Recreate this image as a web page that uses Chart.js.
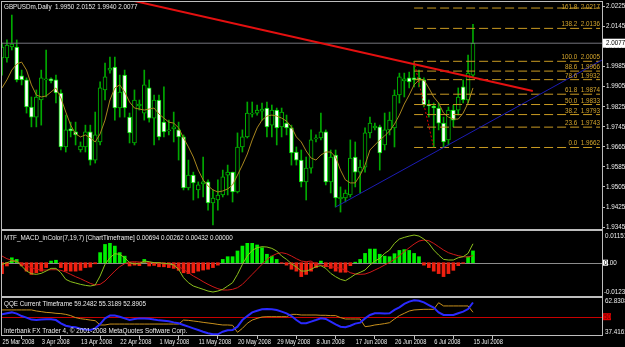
<!DOCTYPE html>
<html>
<head>
<meta charset="utf-8">
<script src="https://cdn.jsdelivr.net/npm/chart.js@4.4.1/dist/chart.umd.min.js"></script>
<style>
  html, body { margin: 0; padding: 0; background: #000; }
  #wrap { position: relative; width: 625px; height: 347px; }
</style>
</head>
<body>
<div id="wrap"><canvas id="mt4Chart" width="625" height="347"></canvas></div>
<script>
// -----------------------------
// DATA
// -----------------------------
const symbolName = 'GBPUSDm,Daily';
const dateLabels = ['25 Mar 2008', '3 Apr 2008', '13 Apr 2008', '22 Apr 2008', '1 May 2008', '11 May 2008',
  '20 May 2008', '29 May 2008', '8 Jun 2008', '17 Jun 2008', '26 Jun 2008', '6 Jul 2008', '15 Jul 2008'];
const barsPerLabel = 8;

const opens = [2.0018, 2.0018, 2.0062, 2.0062, 1.9947, 1.9931, 1.9823, 1.9783, 1.9851, 1.9931,
  1.9935, 1.9931, 1.9879, 1.9664, 1.9736, 1.9724, 1.9652, 1.9664, 1.9724, 1.9612,
  1.9684, 1.9891, 1.9970, 1.9982, 1.9819, 1.9950, 1.9783, 1.9680, 1.9827, 1.9799,
  1.9899, 1.9779, 1.9851, 1.9763, 1.9728, 1.9736, 1.9732, 1.9704, 1.9501, 1.9552,
  1.9493, 1.9517, 1.9525, 1.9441, 1.9453, 1.9473, 1.9552, 1.9564, 1.9485, 1.9664,
  1.9704, 1.9795, 1.9799, 1.9807, 1.9819, 1.9751, 1.9811, 1.9744, 1.9759, 1.9740,
  1.9644, 1.9612, 1.9525, 1.9580, 1.9696, 1.9700, 1.9724, 1.9525, 1.9632, 1.9457,
  1.9461, 1.9473, 1.9624, 1.9564, 1.9584, 1.9720, 1.9740, 1.9744, 1.9672, 1.9732,
  1.9740, 1.9871, 1.9927, 1.9939, 1.9939, 1.9939, 1.9931, 1.9831, 1.9827, 1.9819,
  1.9759, 1.9692, 1.9811, 1.9811, 1.9903, 1.9851, 1.9950];
const highs = [2.0078, 2.0090, 2.0189, 2.0090, 1.9970, 1.9939, 1.9863, 1.9891, 1.9970, 2.0050,
  1.9939, 1.9950, 1.9891, 1.9791, 1.9763, 1.9763, 1.9684, 1.9751, 1.9751, 1.9803,
  1.9923, 1.9998, 2.0022, 2.0022, 1.9950, 1.9970, 1.9799, 1.9891, 1.9851, 1.9970,
  1.9931, 1.9871, 1.9871, 1.9903, 1.9771, 1.9803, 1.9763, 1.9712, 1.9612, 1.9564,
  1.9525, 1.9624, 1.9533, 1.9493, 1.9533, 1.9572, 1.9592, 1.9564, 1.9720, 1.9732,
  1.9843, 1.9843, 1.9831, 1.9839, 1.9843, 1.9831, 1.9819, 1.9819, 1.9791, 1.9751,
  1.9664, 1.9652, 1.9624, 1.9732, 1.9712, 1.9799, 1.9732, 1.9652, 1.9652, 1.9505,
  1.9493, 1.9692, 1.9684, 1.9612, 1.9740, 1.9783, 1.9759, 1.9751, 1.9799, 1.9803,
  1.9891, 1.9958, 1.9958, 1.9962, 2.0005, 1.9970, 1.9939, 1.9851, 1.9839, 1.9839,
  1.9783, 1.9823, 1.9831, 1.9899, 1.9931, 2.0030, 2.0152];
const lows = [1.9950, 2.0002, 2.0050, 1.9923, 1.9911, 1.9799, 1.9744, 1.9744, 1.9751, 1.9863,
  1.9919, 1.9839, 1.9652, 1.9644, 1.9704, 1.9672, 1.9644, 1.9644, 1.9592, 1.9600,
  1.9672, 1.9851, 1.9958, 1.9771, 1.9783, 1.9783, 1.9680, 1.9672, 1.9811, 1.9771,
  1.9763, 1.9672, 1.9692, 1.9704, 1.9712, 1.9684, 1.9612, 1.9493, 1.9493, 1.9453,
  1.9461, 1.9465, 1.9413, 1.9354, 1.9413, 1.9465, 1.9473, 1.9445, 1.9481, 1.9644,
  1.9700, 1.9783, 1.9791, 1.9771, 1.9704, 1.9704, 1.9672, 1.9704, 1.9712, 1.9592,
  1.9592, 1.9505, 1.9453, 1.9560, 1.9684, 1.9692, 1.9513, 1.9481, 1.9425, 1.9405,
  1.9445, 1.9465, 1.9505, 1.9481, 1.9564, 1.9700, 1.9732, 1.9572, 1.9652, 1.9712,
  1.9664, 1.9839, 1.9863, 1.9899, 1.9903, 1.9903, 1.9823, 1.9783, 1.9662, 1.9732,
  1.9664, 1.9672, 1.9744, 1.9791, 1.9839, 1.9839, 1.9940];
const closes = [2.0062, 2.0070, 2.0074, 1.9931, 1.9931, 1.9823, 1.9783, 1.9863, 1.9939, 1.9935,
  1.9927, 1.9879, 1.9664, 1.9732, 1.9728, 1.9712, 1.9668, 1.9724, 1.9612, 1.9712,
  1.9899, 1.9943, 1.9978, 1.9819, 1.9883, 1.9819, 1.9720, 1.9851, 1.9835, 1.9911,
  1.9779, 1.9851, 1.9704, 1.9724, 1.9732, 1.9744, 1.9704, 1.9501, 1.9552, 1.9521,
  1.9513, 1.9525, 1.9441, 1.9461, 1.9473, 1.9545, 1.9564, 1.9485, 1.9664, 1.9704,
  1.9799, 1.9799, 1.9811, 1.9815, 1.9744, 1.9811, 1.9740, 1.9803, 1.9740, 1.9640,
  1.9612, 1.9525, 1.9580, 1.9692, 1.9700, 1.9724, 1.9525, 1.9624, 1.9461, 1.9465,
  1.9481, 1.9620, 1.9564, 1.9584, 1.9720, 1.9759, 1.9747, 1.9640, 1.9732, 1.9771,
  1.9871, 1.9943, 1.9935, 1.9923, 1.9931, 1.9931, 1.9831, 1.9827, 1.9819, 1.9759,
  1.9684, 1.9811, 1.9771, 1.9863, 1.9851, 1.9958, 2.0077];

// moving average drawn over the candles
const maLine = [1.9899, 1.9931, 1.9970, 1.9994, 2.0002, 1.9970, 1.9911, 1.9871, 1.9863, 1.9867,
  1.9883, 1.9899, 1.9859, 1.9803, 1.9751, 1.9716, 1.9704, 1.9712, 1.9700, 1.9684,
  1.9716, 1.9771, 1.9851, 1.9899, 1.9911, 1.9883, 1.9843, 1.9819, 1.9815, 1.9811,
  1.9815, 1.9819, 1.9795, 1.9779, 1.9763, 1.9759, 1.9740, 1.9700, 1.9664, 1.9624,
  1.9572, 1.9533, 1.9509, 1.9493, 1.9485, 1.9489, 1.9497, 1.9513, 1.9552, 1.9592,
  1.9636, 1.9692, 1.9740, 1.9771, 1.9787, 1.9791, 1.9787, 1.9779, 1.9767, 1.9744,
  1.9704, 1.9684, 1.9648, 1.9620, 1.9612, 1.9632, 1.9644, 1.9644, 1.9624, 1.9572,
  1.9533, 1.9521, 1.9521, 1.9552, 1.9592, 1.9652, 1.9672, 1.9692, 1.9708, 1.9728,
  1.9755, 1.9791, 1.9835, 1.9871, 1.9911, 1.9931, 1.9931, 1.9899, 1.9863, 1.9839,
  1.9799, 1.9783, 1.9775, 1.9775, 1.9799, 1.9839, 1.9899];

// objects on the price chart (bar index, price)
const redTrendBars = [0, 108.2];
const redTrendPrices = [2.0364, 1.9887];
const blueTrendBars = [68, 122.3];
const blueTrendPrices = [1.9425, 2.0010];
const fibAnchorBars = [84, 88];
const fibAnchorPrices = [2.0005, 1.9662];
const fibLevels = [161.8, 138.2, 100.0, 88.6, 78.6, 61.8, 50.0, 38.2, 23.6, 0.0];
const fibPrices = [2.0217, 2.0136, 2.0005, 1.9966, 1.9932, 1.9874, 1.9833, 1.9793, 1.9743, 1.9662];
const fibEndBar = 121.9;

const priceTicks = [2.0225, 2.0145, 2.0065, 1.9985, 1.9905, 1.9825, 1.9745, 1.9665, 1.9585, 1.9505, 1.9425, 1.9345];

// MACD window
const macdHist = [-0.0040, -0.0012, 0.0018, 0.0012, -0.0012, -0.0031, -0.0043, -0.0037, -0.0031, -0.0018,
  0.0006, 0.0009, -0.0018, -0.0031, -0.0031, -0.0031, -0.0028, -0.0018, -0.0016, -0.0004,
  0.0037, 0.0067, 0.0071, 0.0061, 0.0037, 0.0024, -0.0012, -0.0009, -0.0011, 0.0012,
  -0.0012, -0.0010, -0.0015, -0.0015, -0.0018, -0.0021, -0.0028, -0.0037, -0.0040, -0.0037,
  -0.0031, -0.0027, -0.0024, -0.0018, -0.0009, 0.0012, 0.0022, 0.0022, 0.0043, 0.0061,
  0.0071, 0.0071, 0.0065, 0.0055, 0.0031, 0.0024, 0.0012, -0.0002, -0.0009, -0.0024,
  -0.0031, -0.0051, -0.0043, -0.0031, -0.0018, 0.0006, -0.0015, -0.0021, -0.0031, -0.0035,
  -0.0035, -0.0011, 0.0002, 0.0012, 0.0034, 0.0050, 0.0050, 0.0031, 0.0024, 0.0022,
  0.0033, 0.0045, 0.0048, 0.0045, 0.0034, 0.0022, -0.0009, -0.0018, -0.0031, -0.0040,
  -0.0051, -0.0040, -0.0028, -0.0011, -0.0002, 0.0022, 0.00432];
const macdMain = [-0.00061, 0.00000, 0.00061, 0.00061, -0.00122, -0.00306, -0.00404, -0.00428, -0.00391, -0.00306,
  -0.00208, -0.00208, -0.00367, -0.00612, -0.00697, -0.00746, -0.00795, -0.00832, -0.00856, -0.00819,
  -0.00489, -0.00061, 0.00183, 0.00330, 0.00306, 0.00183, 0.00000, -0.00037, -0.00037, 0.00061,
  0.00037, 0.00000, 0.00000, -0.00024, -0.00037, -0.00086, -0.00245, -0.00550, -0.00734, -0.00856,
  -0.00917, -0.00978, -0.01040, -0.01076, -0.01040, -0.00978, -0.00856, -0.00734, -0.00428, -0.00061,
  0.00245, 0.00453, 0.00550, 0.00587, 0.00575, 0.00526, 0.00428, 0.00245, 0.00122, -0.00037,
  -0.00159, -0.00306, -0.00306, -0.00245, -0.00147, -0.00110, -0.00208, -0.00391, -0.00514, -0.00612,
  -0.00660, -0.00550, -0.00428, -0.00355, -0.00269, -0.00086, 0.00061, 0.00159, 0.00342, 0.00465,
  0.00709, 0.00868, 0.00929, 0.00978, 0.01015, 0.00978, 0.00868, 0.00709, 0.00465, 0.00281,
  0.00122, 0.00098, 0.00098, 0.00183, 0.00220, 0.00342, 0.00694];
const macdSignal = [0.00245, 0.00147, 0.00086, 0.00037, -0.00037, -0.00122, -0.00183, -0.00245, -0.00269, -0.00269,
  -0.00257, -0.00257, -0.00281, -0.00342, -0.00428, -0.00514, -0.00587, -0.00673, -0.00758, -0.00819,
  -0.00795, -0.00673, -0.00489, -0.00306, -0.00147, -0.00037, 0.00024, 0.00037, 0.00024, 0.00024,
  0.00012, 0.00000, -0.00012, -0.00037, -0.00061, -0.00086, -0.00147, -0.00245, -0.00367, -0.00489,
  -0.00587, -0.00697, -0.00795, -0.00881, -0.00954, -0.01003, -0.01003, -0.00978, -0.00917, -0.00795,
  -0.00612, -0.00428, -0.00245, -0.00061, 0.00122, 0.00245, 0.00330, 0.00367, 0.00330, 0.00245,
  0.00147, 0.00061, 0.00037, 0.00061, -0.00061, -0.00086, -0.00122, -0.00147, -0.00171, -0.00208,
  -0.00269, -0.00367, -0.00416, -0.00428, -0.00416, -0.00355, -0.00269, -0.00183, -0.00086, 0.00012,
  0.00122, 0.00257, 0.00404, 0.00550, 0.00685, 0.00795, 0.00832, 0.00807, 0.00709, 0.00587,
  0.00465, 0.00367, 0.00306, 0.00257, 0.00220, 0.00208, 0.00262];
const macdScaleLabels = ['0.01151', '-0.01237'];

// QQE window
const qqeFast = [51.5, 52.2, 52.8, 52.0, 50.4, 49.4, 48.1, 47.8, 48.1, 48.3,
  48.3, 47.8, 45.7, 44.1, 43.5, 43.1, 42.2, 41.7, 41.3, 42.4,
  45.2, 48.9, 50.7, 50.7, 50.0, 48.9, 47.8, 48.5, 48.9, 48.9,
  48.7, 48.1, 47.6, 47.4, 47.0, 46.3, 45.7, 44.6, 43.5, 42.4,
  41.3, 40.2, 39.2, 38.5, 38.5, 40.2, 41.1, 41.3, 43.5, 47.8,
  50.4, 52.8, 53.9, 54.8, 55.0, 54.8, 54.4, 53.3, 52.2, 50.4,
  47.8, 45.7, 45.7, 46.8, 47.8, 48.9, 48.5, 46.8, 45.0, 43.5,
  43.1, 44.1, 45.5, 46.1, 48.9, 51.1, 52.2, 52.2, 52.0, 52.2,
  54.4, 56.1, 58.3, 59.8, 60.7, 60.4, 59.3, 57.6, 55.9, 52.8,
  51.1, 51.1, 51.1, 52.2, 53.3, 55.0, 59.2482];
const qqeSlow = [54.4, 54.4, 54.4, 54.4, 54.4, 54.4, 54.4, 53.7, 53.3, 52.8,
  52.6, 52.2, 52.0, 51.5, 50.7, 49.4, 48.7, 48.3, 47.8, 47.4,
  44.6, 44.6, 45.2, 45.2, 45.2, 45.2, 45.2, 45.2, 45.2, 45.2,
  45.2, 45.2, 45.2, 45.2, 45.2, 45.2, 45.2, 47.8, 47.6, 47.2,
  46.8, 46.3, 45.9, 45.5, 45.0, 44.6, 44.6, 44.4, 39.8, 42.4,
  45.7, 47.8, 48.9, 49.8, 50.0, 50.0, 50.0, 50.0, 50.0, 51.5,
  51.5, 51.1, 51.1, 51.1, 51.1, 50.9, 50.9, 50.7, 50.7, 49.4,
  48.5, 48.5, 48.5, 48.5, 43.5, 43.9, 44.6, 45.0, 45.5, 46.1,
  48.5, 50.7, 52.2, 53.7, 54.4, 54.6, 54.8, 54.8, 54.8, 59.1,
  57.0, 57.0, 57.0, 57.0, 57.0, 57.0, 52.8905];
const qqeMiddleValue = 55.3189;
const qqeLevel = 50;
const qqeRange = [37.4161, 62.8308];

// -----------------------------
// LOOK
// -----------------------------
const FONT = '"Liberation Sans", Arial, sans-serif';
const TEXT = '#ececec';
const FRAME = '#bdbdbd';
const SQUEEZE = 0.84;      // MT4 text is narrower than Liberation Sans
const DATE_SQUEEZE = 0.76;

const last = closes.length - 1;
const xMax = 122.3;
const idx = closes.map((_, i) => i);

const line = (xs, ys, color, width, axis, order, dash) => ({
  type: 'line',
  data: xs.map((x, k) => ({ x, y: ys[k] })),
  yAxisID: axis,
  borderColor: color,
  borderWidth: width,
  borderDash: dash || [],
  pointRadius: 0,
  tension: 0,
  order
});

const fibSets = fibPrices.map(p =>
  line([fibAnchorBars[0], fibEndBar], [p, p], '#c99a22', 1, 'y', 3, [9, 4]));

// narrow text helper
function narrowText(ctx, str, x, y, align, sx) {
  ctx.save();
  ctx.translate(x, y);
  ctx.scale(sx || SQUEEZE, 1);
  ctx.textAlign = align || 'left';
  ctx.fillText(str, 0, 0);
  ctx.restore();
}

// -----------------------------
// PANES PLUGIN (frames, levels, texts)
// -----------------------------
const panesPlugin = {
  id: 'panes',
  beforeDatasetsDraw(chart) {
    const { ctx, scales: { x, y2, y3 } } = chart;
    ctx.save();
    ctx.lineWidth = 1;
    ctx.strokeStyle = '#8c8c8c';
    const z = Math.round(y2.getPixelForValue(0)) + 0.5;
    ctx.beginPath(); ctx.moveTo(x.left, z); ctx.lineTo(x.right, z); ctx.stroke();
    ctx.strokeStyle = '#c80000';
    const q = Math.round(y3.getPixelForValue(qqeLevel)) + 0.5;
    ctx.beginPath(); ctx.moveTo(x.left, q); ctx.lineTo(x.right, q); ctx.stroke();
    ctx.restore();
  },
  afterDraw(chart) {
    const { ctx, scales: { x, y, y2, y3 } } = chart;
    ctx.save();

    // pane frames
    ctx.strokeStyle = FRAME;
    ctx.lineWidth = 1;
    [y, y2, y3].forEach(s => {
      ctx.strokeRect(x.left - 0.5, s.top + 0.5, x.right - x.left + 1, s.bottom - s.top - 1);
    });

    ctx.font = '7.5px ' + FONT;

    // fibo texts
    ctx.fillStyle = '#d4a52c';
    ctx.textBaseline = 'alphabetic';
    const fx = x.getPixelForValue(fibEndBar);
    fibLevels.forEach((lvl, k) => {
      const ty = Math.max(y.getPixelForValue(fibPrices[k]) - 2, y.top + 8);
      narrowText(ctx, lvl.toFixed(1) + '  ' + fibPrices[k].toFixed(4), fx, ty, 'right');
    });

    // window titles
    ctx.textBaseline = 'middle';
    ctx.fillStyle = TEXT;
    narrowText(ctx, `${symbolName}  ${opens[last].toFixed(4)} ${highs[last].toFixed(4)} ${lows[last].toFixed(4)} ${closes[last].toFixed(4)}`, 4, y.top + 6);
    narrowText(ctx, `MTF_MACD_inColor(7,19,7) [ChartTimeframe] ${macdMain[last].toFixed(5)} ${macdSignal[last].toFixed(5)} ${macdHist[last].toFixed(5)} 0.00000`, 4, y2.top + 8);
    narrowText(ctx, `QQE Current Timeframe ${qqeFast[last].toFixed(4)} ${qqeMiddleValue.toFixed(4)} ${qqeSlow[last].toFixed(4)}`, 4, y3.top + 7);
    narrowText(ctx, 'Interbank FX Trader 4, \u00a9 2001-2008 MetaQuotes Software Corp.', 4, y3.bottom - 5, 'left', 0.85);

    // date labels
    x.ticks.forEach((t, k) => {
      narrowText(ctx, dateLabels[k], x.getPixelForValue(t.value) + 0.5, x.top + 6, 'left', DATE_SQUEEZE);
    });

    // price scale
    const rx = x.right + 4;
    priceTicks.forEach(v => narrowText(ctx, v.toFixed(4), rx, y.getPixelForValue(v)));

    // right scale of the sub windows
    narrowText(ctx, macdScaleLabels[0], rx - 1, y2.top + 6);
    narrowText(ctx, macdScaleLabels[1], rx - 2, y2.bottom - 5);
    const zy = y2.getPixelForValue(0);
    ctx.fillStyle = '#ffffff';
    ctx.fillRect(x.right + 1, zy - 3, 5, 6);
    ctx.fillStyle = '#000000';
    narrowText(ctx, '0', rx - 2, zy);
    ctx.fillStyle = TEXT;
    narrowText(ctx, '.00', rx + 2, zy);

    narrowText(ctx, qqeRange[1].toFixed(4), rx - 1, y3.top + 4);
    narrowText(ctx, qqeRange[0].toFixed(4), rx - 1, y3.bottom - 4);
    const ly = y3.getPixelForValue(qqeLevel);
    ctx.fillStyle = '#e00000';
    ctx.fillRect(x.right + 1, ly - 3.5, 8, 7);
    ctx.fillStyle = '#700000';
    narrowText(ctx, String(qqeLevel), rx - 2, ly);

    // current price tag
    const py = y.getPixelForValue(closes[last]);
    ctx.fillStyle = '#ffffff';
    ctx.fillRect(x.right + 1, py - 4.5, 625 - x.right, 9);
    ctx.fillStyle = '#000000';
    narrowText(ctx, closes[last].toFixed(4), rx, py);

    ctx.restore();
  }
};

// -----------------------------
// CHART
// -----------------------------
const ctx = document.getElementById('mt4Chart').getContext('2d');

new Chart(ctx, {
  type: 'bar',
  data: {
    datasets: [
      // candle wicks
      {
        type: 'bar',
        data: idx.map(i => ({ x: i, y: [lows[i], highs[i]] })),
        yAxisID: 'y',
        backgroundColor: '#00a800',
        barThickness: 1,
        grouped: false,
        order: 10
      },
      // candle bodies
      {
        type: 'bar',
        data: idx.map(i => ({ x: i, y: [opens[i], closes[i]] })),
        yAxisID: 'y',
        backgroundColor: idx.map(i => closes[i] >= opens[i] ? '#000000' : '#ffffff'),
        borderColor: idx.map(i => closes[i] >= opens[i] ? '#00b400' : '#00e000'),
        borderWidth: 1,
        borderSkipped: false,
        barThickness: 4,
        grouped: false,
        order: 9
      },
      line(idx, maLine, '#a8861e', 1, 'y', 5),
      ...fibSets,
      line(fibAnchorBars, fibAnchorPrices, '#e00000', 1, 'y', 2, [2, 2]),
      line(redTrendBars, redTrendPrices, '#e41010', 2, 'y', 1),
      line(blueTrendBars, blueTrendPrices, '#1c1cb4', 1, 'y', 1),
      line([0, xMax], [closes[last], closes[last]], '#74747c', 1, 'y', 4),

      // MACD
      {
        type: 'bar',
        data: idx.map(i => ({ x: i, y: macdHist[i] })),
        yAxisID: 'y2',
        backgroundColor: macdHist.map(v => v >= 0 ? '#00f000' : '#f02010'),
        barThickness: 3,
        grouped: false,
        order: 10
      },
      line(idx, macdMain, '#8cc01c', 1, 'y2', 1),
      line(idx, macdSignal, '#d01818', 1, 'y2', 2),

      // QQE
      line(idx, qqeSlow, '#c8901c', 1, 'y3', 2),
      line(idx, qqeFast, '#2a2aff', 2, 'y3', 1)
    ]
  },
  options: {
    responsive: false,
    animation: false,
    devicePixelRatio: 1,
    events: [],
    layout: { padding: { left: 2, top: 1, right: 0, bottom: 0 } },
    plugins: { legend: { display: false }, tooltip: { enabled: false } },
    scales: {
      x: {
        type: 'linear',
        min: 0,
        max: xMax,
        offset: false,
        grid: { drawOnChartArea: false, drawTicks: true, tickLength: 3, color: FRAME },
        border: { display: false },
        afterBuildTicks: s => { s.ticks = dateLabels.map((_, k) => ({ value: k * barsPerLabel })); },
        afterFit: s => { s.height = 11; },
        ticks: { display: false }
      },
      y: {
        type: 'linear',
        position: 'right',
        stack: 'panes',
        stackWeight: 229,
        min: 1.93336,
        max: 2.0245,
        grid: { drawOnChartArea: false, drawTicks: true, tickLength: 3, color: FRAME },
        border: { display: false },
        afterBuildTicks: s => { s.ticks = priceTicks.map(v => ({ value: v })); },
        afterFit: s => { s.width = 23; },
        ticks: { display: false }
      },
      y2: {
        type: 'linear',
        position: 'right',
        stack: 'panes',
        stackWeight: 67,
        min: -0.01259,
        max: 0.0120,
        grid: { display: false },
        border: { display: false },
        afterFit: s => { s.width = 23; },
        ticks: { display: false }
      },
      y3: {
        type: 'linear',
        position: 'right',
        stack: 'panes',
        stackWeight: 39,
        min: qqeRange[0],
        max: qqeRange[1],
        grid: { display: false },
        border: { display: false },
        afterFit: s => { s.width = 23; },
        ticks: { display: false }
      }
    }
  },
  plugins: [panesPlugin]
});
</script>
</body>
</html>
